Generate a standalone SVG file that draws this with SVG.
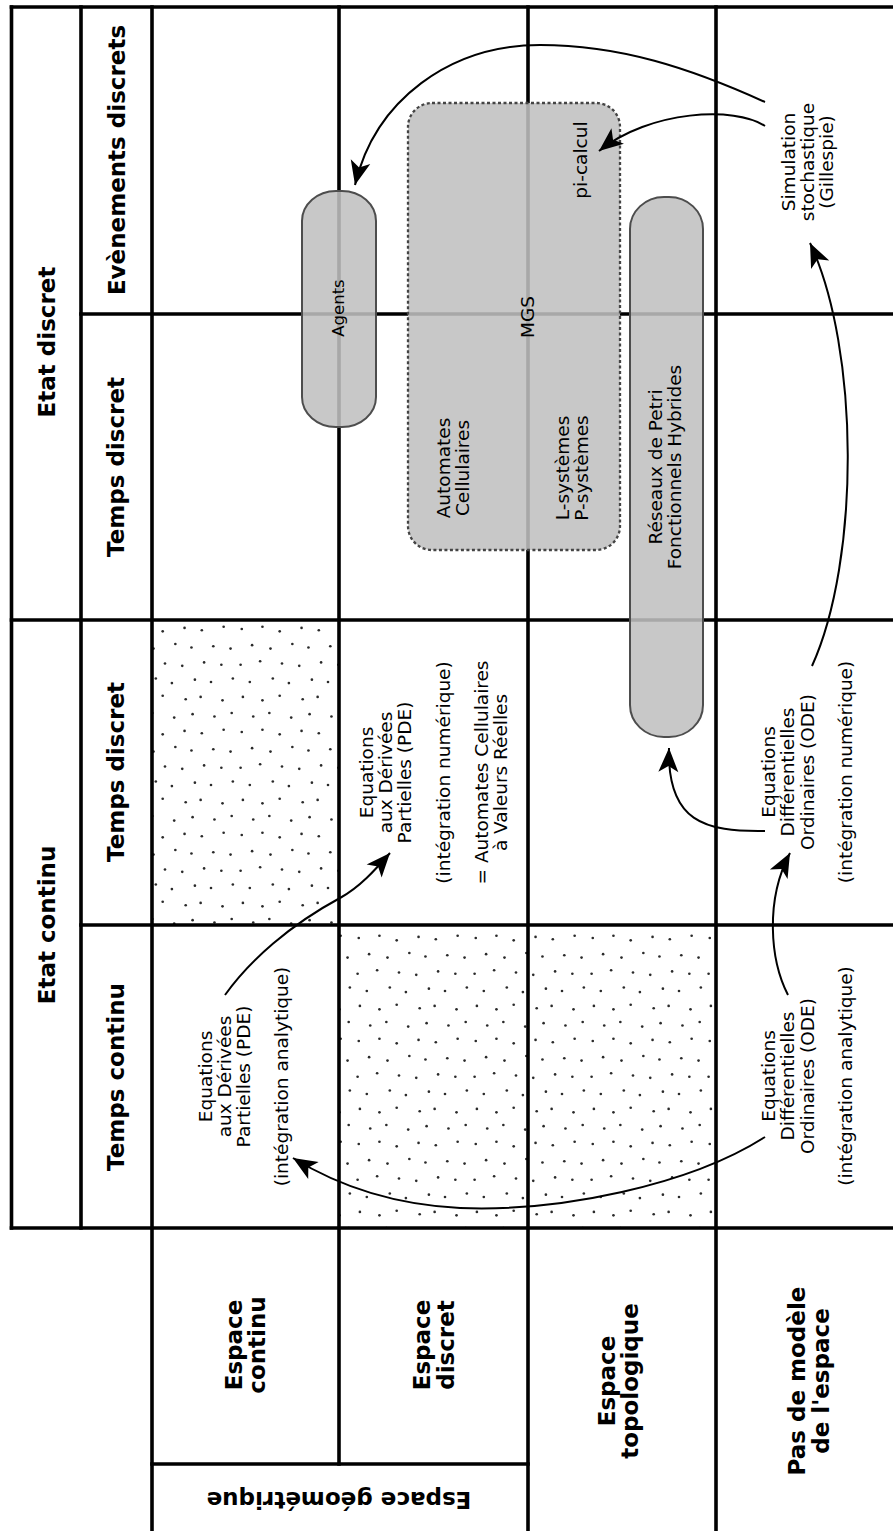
<svg xmlns="http://www.w3.org/2000/svg" width="893" height="1531" viewBox="0 0 893 1531">
<style>
.grid line{stroke:#000;stroke-width:3.6;stroke-linecap:square}
.h{font-family:"DejaVu Sans","Liberation Sans",sans-serif;font-weight:bold;font-size:23px;fill:#000;text-anchor:middle}
.n{font-family:"DejaVu Sans","Liberation Sans",sans-serif;font-size:18.5px;fill:#000;text-anchor:middle}
.pill{fill:#c0c0c0;fill-opacity:0.875;stroke:#4d4d4d;stroke-width:2}
.mgs{fill:#c0c0c0;fill-opacity:0.875;stroke:#444;stroke-width:2.3;stroke-dasharray:3 2.5}
.arr{fill:none;stroke:#000;stroke-width:2;marker-end:url(#ah)}
.dots{fill:url(#stipple)}
</style>
<defs>
<pattern id="stipple" patternUnits="userSpaceOnUse" width="117" height="103" patternTransform="translate(2,3)">
<g fill="#2a2a2a" transform="scale(1.15)">
<circle cx="5" cy="7" r="1.15"/><circle cx="23" cy="5" r="1.15"/><circle cx="38" cy="9" r="1.15"/><circle cx="57" cy="6" r="1.15"/><circle cx="72" cy="8" r="1.15"/><circle cx="91" cy="5" r="1.15"/>
<circle cx="14" cy="21" r="1.15"/><circle cx="30" cy="24" r="1.15"/><circle cx="49" cy="20" r="1.15"/><circle cx="63" cy="23" r="1.15"/><circle cx="82" cy="22" r="1.15"/><circle cx="97" cy="24" r="1.15"/>
<circle cx="4" cy="38" r="1.15"/><circle cx="21" cy="35" r="1.15"/><circle cx="40" cy="37" r="1.15"/><circle cx="55" cy="39" r="1.15"/><circle cx="74" cy="36" r="1.15"/><circle cx="89" cy="38" r="1.15"/>
<circle cx="12" cy="53" r="1.15"/><circle cx="32" cy="50" r="1.15"/><circle cx="46" cy="54" r="1.15"/><circle cx="66" cy="51" r="1.15"/><circle cx="80" cy="53" r="1.15"/><circle cx="99" cy="50" r="1.15"/>
<circle cx="6" cy="66" r="1.15"/><circle cx="23" cy="69" r="1.15"/><circle cx="38" cy="65" r="1.15"/><circle cx="58" cy="68" r="1.15"/><circle cx="71" cy="66" r="1.15"/><circle cx="90" cy="69" r="1.15"/>
<circle cx="15" cy="83" r="1.15"/><circle cx="29" cy="80" r="1.15"/><circle cx="48" cy="84" r="1.15"/><circle cx="64" cy="81" r="1.15"/><circle cx="83" cy="83" r="1.15"/><circle cx="98" cy="80" r="1.15"/>
</g>
</pattern>
<marker id="ah" viewBox="-25 -11 26 22" refX="0" refY="0" markerWidth="26" markerHeight="22" markerUnits="userSpaceOnUse" orient="auto">
<path d="M0,0 L-24,-10 L-18,0 L-24,10 Z" fill="#000"/>
</marker>
</defs>

<rect x="0" y="0" width="893" height="1531" fill="#fff"/>

<g id="textures">
<rect class="dots" x="152" y="620" width="187" height="305"/>
<rect class="dots" x="339" y="925" width="189" height="303"/>
<rect class="dots" x="528" y="925" width="188" height="303"/>
</g>

<g id="grid" class="grid">
<line x1="11.5" y1="7" x2="893" y2="7"/>
<line x1="11.5" y1="7" x2="11.5" y2="1228"/>
<line x1="81" y1="7" x2="81" y2="1228"/>
<line x1="152" y1="7" x2="152" y2="1531"/>
<line x1="339" y1="7" x2="339" y2="1464"/>
<line x1="528" y1="7" x2="528" y2="1531"/>
<line x1="716" y1="7" x2="716" y2="1531"/>
<line x1="81" y1="314" x2="893" y2="314"/>
<line x1="11.5" y1="620" x2="893" y2="620"/>
<line x1="81" y1="925" x2="893" y2="925"/>
<line x1="11.5" y1="1228" x2="893" y2="1228"/>
<line x1="152" y1="1464" x2="528" y2="1464"/>
</g>

<g id="headers">
<text class="h" transform="translate(0,342) rotate(-90)"><tspan x="0" y="55">Etat discret</tspan></text>
<text class="h" transform="translate(0,925) rotate(-90)"><tspan x="0" y="55">Etat continu</tspan></text>
<text class="h" transform="translate(0,160) rotate(-90)"><tspan x="0" y="125">Evènements discrets</tspan></text>
<text class="h" transform="translate(0,467) rotate(-90)"><tspan x="0" y="124">Temps discret</tspan></text>
<text class="h" transform="translate(0,772) rotate(-90)"><tspan x="0" y="124">Temps discret</tspan></text>
<text class="h" transform="translate(0,1077) rotate(-90)"><tspan x="0" y="124">Temps continu</tspan></text>
<text class="h" transform="translate(0,1345) rotate(-90)"><tspan x="0" y="241.5">Espace</tspan><tspan x="0" y="265">continu</tspan></text>
<text class="h" transform="translate(0,1345) rotate(-90)"><tspan x="0" y="430">Espace</tspan><tspan x="0" y="454">discret</tspan></text>
<text class="h" transform="translate(0,1381) rotate(-90)"><tspan x="0" y="614.5">Espace</tspan><tspan x="0" y="638">topologique</tspan></text>
<text class="h" transform="translate(0,1381) rotate(-90)"><tspan x="0" y="805">Pas de modèle</tspan><tspan x="0" y="828.5">de l'espace</tspan></text>
<text class="h" transform="translate(339,1492) rotate(180)"><tspan x="0" y="0">Espace géométrique</tspan></text>
</g>

<g id="node-mgs">
<rect class="mgs" x="408" y="103" width="212" height="447" rx="24" ry="24"/>
<text class="n" transform="translate(0,317) rotate(-90)"><tspan x="0" y="533.5">MGS</tspan></text>
<text class="n" transform="translate(0,160) rotate(-90)"><tspan x="0" y="587.3">pi-calcul</tspan></text>
<text class="n" transform="translate(0,468) rotate(-90)"><tspan x="0" y="450">Automates</tspan><tspan x="0" y="469.2">Cellulaires</tspan></text>
<text class="n" transform="translate(0,468) rotate(-90)"><tspan x="0" y="568.5">L-systèmes</tspan><tspan x="0" y="587.7">P-systèmes</tspan></text>
</g>

<g id="node-agents">
<rect class="pill" x="302" y="191" width="74" height="236" rx="34" ry="30"/>
<text class="n" style="font-size:16.5px" transform="translate(0,308) rotate(-90)"><tspan x="0" y="343.5">Agents</tspan></text>
</g>

<g id="node-petri">
<rect class="pill" x="630" y="197" width="73" height="540" rx="34" ry="32"/>
<text class="n" transform="translate(0,467) rotate(-90)"><tspan x="0" y="662">Réseaux de Petri</tspan><tspan x="0" y="681.2">Fonctionnels Hybrides</tspan></text>
</g>

<g id="node-gillespie">
<text class="n" transform="translate(0,162) rotate(-90)"><tspan x="0" y="795">Simulation</tspan><tspan x="0" y="814.2">stochastique</tspan><tspan x="0" y="833.4">(Gillespie)</tspan></text>
</g>

<g id="node-pde-continu">
<text class="n" transform="translate(0,1076.5) rotate(-90)"><tspan x="0" y="211.5">Equations</tspan><tspan x="0" y="230.7">aux Dérivées</tspan><tspan x="0" y="249.9">Partielles (PDE)</tspan><tspan x="0" y="288.3">(intégration analytique)</tspan></text>
</g>

<g id="node-pde-discret">
<text class="n" transform="translate(0,772.5) rotate(-90)"><tspan x="0" y="372.7">Equations</tspan><tspan x="0" y="391.9">aux Dérivées</tspan><tspan x="0" y="411.1">Partielles (PDE)</tspan><tspan x="0" y="449.5">(intégration numérique)</tspan><tspan x="0" y="487.9">= Automates Cellulaires</tspan><tspan x="0" y="507.1">à Valeurs Réelles</tspan></text>
</g>

<g id="node-ode-discret">
<text class="n" transform="translate(0,772) rotate(-90)"><tspan x="0" y="775.2">Equations</tspan><tspan x="0" y="794.4">Différentielles</tspan><tspan x="0" y="813.6">Ordinaires (ODE)</tspan><tspan x="0" y="852">(intégration numérique)</tspan></text>
</g>

<g id="node-ode-continu">
<text class="n" transform="translate(0,1076) rotate(-90)"><tspan x="0" y="775.2">Equations</tspan><tspan x="0" y="794.4">Différentielles</tspan><tspan x="0" y="813.6">Ordinaires (ODE)</tspan><tspan x="0" y="852">(intégration analytique)</tspan></text>
</g>

<g id="connectors">
<path class="arr" d="M765,102 C690,68 620,45 540,45 C450,45 375,100 355,185"/>
<path class="arr" d="M765,126 C735,106 650,110 599,151"/>
<path class="arr" d="M812,666 C860,560 860,350 810,243"/>
<path class="arr" d="M765,831 C705,832 667,822 669,748"/>
<path class="arr" d="M788,995 C770,960 765,900 790,853"/>
<path class="arr" d="M765,1137 C690,1185 560,1212 460,1208 C400,1205 345,1190 293,1158"/>
<path class="arr" d="M225,995 C250,960 290,925 340,898 C360,887 375,870 390,853"/>
</g>
</svg>
